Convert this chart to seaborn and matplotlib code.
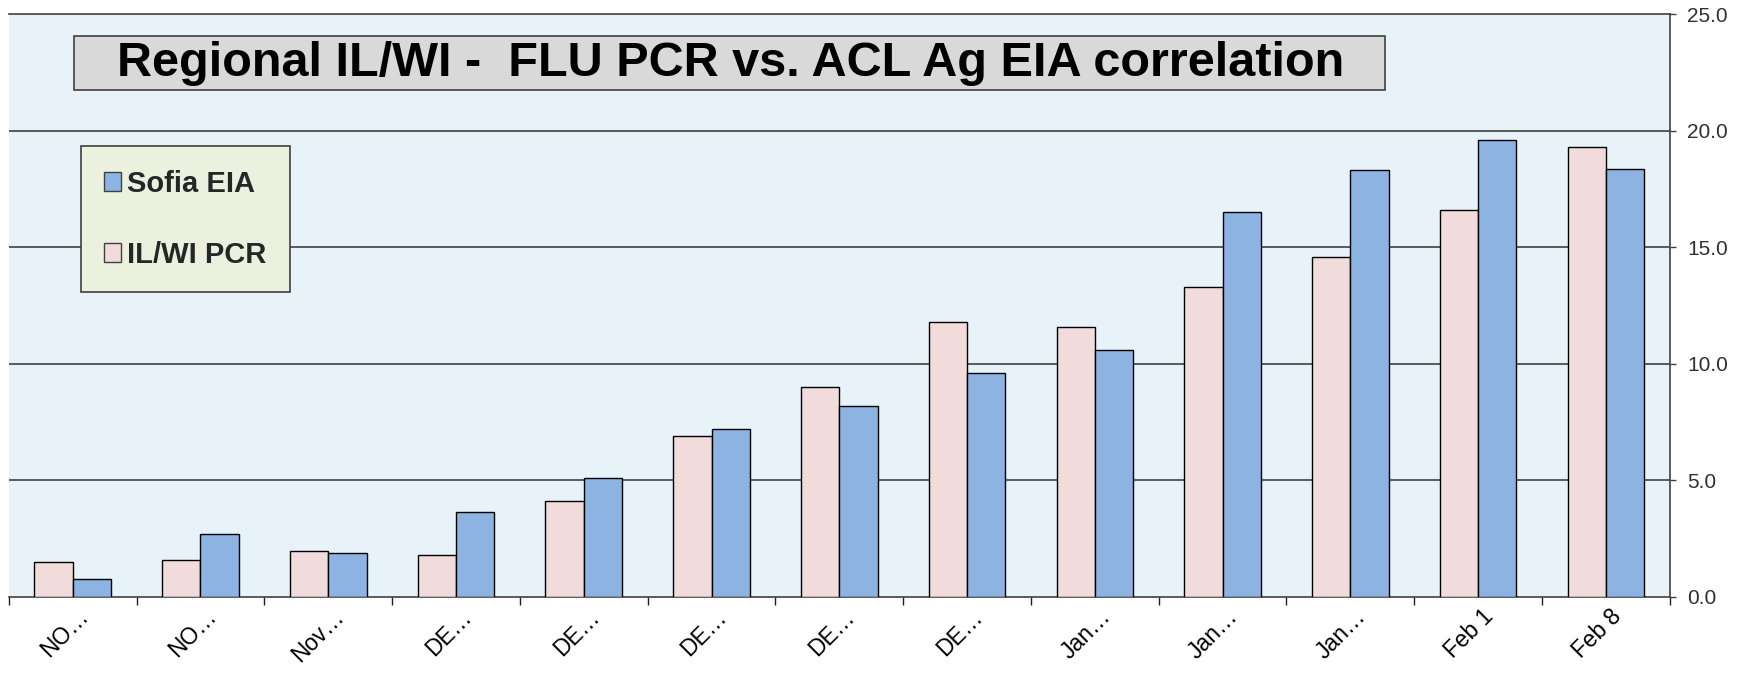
import matplotlib
matplotlib.use("Agg")
import matplotlib.pyplot as plt
import matplotlib.transforms as mtransforms
import seaborn as sns
import pandas as pd
from matplotlib.patches import Patch, Rectangle
from matplotlib.ticker import FormatStrFormatter, FixedLocator

categories = ["NO…", "NO…", "Nov…", "DE…", "DE…", "DE…", "DE…", "DE…",
              "Jan…", "Jan…", "Jan…", "Feb 1", "Feb 8"]
pcr_values = [1.5, 1.6, 1.95, 1.8, 4.1, 6.9, 9.0, 11.8, 11.6, 13.3, 14.6, 16.6, 19.3]
eia_values = [0.75, 2.7, 1.9, 3.65, 5.1, 7.2, 8.2, 9.6, 10.6, 16.5, 18.3, 19.6, 18.35]
series_names = ["IL/WI PCR", "Sofia EIA"]
yticks = [0, 5, 10, 15, 20, 25]
title = "Regional IL/WI -  FLU PCR vs. ACL Ag EIA correlation"

week_ids = list(range(len(categories)))
df = pd.DataFrame({
    "week": week_ids * 2,
    "value": pcr_values + eia_values,
    "series": [series_names[0]] * len(categories) + [series_names[1]] * len(categories),
})

colors = {"IL/WI PCR": "#F2DCDB", "Sofia EIA": "#8DB3E2"}

sns.set_theme(style="white")
plt.rcParams["font.family"] = ["Liberation Sans", "DejaVu Sans"]

fig = plt.figure(figsize=(17.54, 6.76), dpi=100)
ax = fig.add_axes([0.005, 0.117, 0.947, 0.862])
ax.set_facecolor("#E7F2F9")

sns.barplot(data=df, x="week", y="value", hue="series", hue_order=series_names,
            order=week_ids, palette=colors, saturation=1, width=0.6,
            edgecolor="black", linewidth=1.0, legend=False, ax=ax, zorder=3)

ax.set_ylim(0, 25)
ax.set_xlim(-0.5, len(categories) - 0.5)
ax.yaxis.tick_right()
ax.set_yticks(yticks)
ax.yaxis.set_major_formatter(FormatStrFormatter("%.1f"))
ax.tick_params(axis="y", direction="out", length=4.5, width=1, color="#404040",
               labelsize=15, labelcolor="#303030", pad=8)
for y in yticks[1:-1]:
    ax.axhline(y, color="#404040", linewidth=1.2, zorder=1)

ax.set_xticks(week_ids)
ax.set_xticklabels(categories, rotation=45, ha="right", rotation_mode="anchor")
ax.tick_params(axis="x", which="major", length=0, labelsize=16.5, pad=6, labelcolor="black")
shift = mtransforms.ScaledTranslation(4 / 100, 0, fig.dpi_scale_trans)
for lbl in ax.get_xticklabels():
    lbl.set_transform(lbl.get_transform() + shift)
ax.xaxis.set_minor_locator(FixedLocator([i - 0.5 for i in range(len(categories) + 1)]))
ax.tick_params(axis="x", which="minor", direction="out", length=6, width=1, color="#202020",
               bottom=True)
ax.set_xlabel("")
ax.set_ylabel("")

ax.spines["left"].set_visible(False)
for s in ["top", "right", "bottom"]:
    ax.spines[s].set_visible(True)
    ax.spines[s].set_color("#404040")
    ax.spines[s].set_linewidth(1.2)

ax.add_patch(Rectangle((0.0393, 0.870), 0.789, 0.0927, transform=ax.transAxes,
                       facecolor="#D9D9D9", edgecolor="#404040", linewidth=1.2, zorder=5))
ax.text(0.4345, 0.916, title, transform=ax.transAxes, ha="center", va="center",
        fontsize=35, fontweight="bold", color="black", zorder=6)

handles = [Patch(facecolor=colors["Sofia EIA"], edgecolor="#404040", label="Sofia EIA"),
           Patch(facecolor=colors["IL/WI PCR"], edgecolor="#404040", label="IL/WI PCR")]
leg = ax.legend(handles=handles, loc="upper left", bbox_to_anchor=(0.0432, 0.773),
                prop={"weight": "bold", "size": 21}, frameon=True, fancybox=False,
                labelspacing=1.47, handlelength=0.6, handleheight=0.6, handletextpad=0.2,
                borderpad=0.8, borderaxespad=0)
leg.get_frame().set_facecolor("#EBF1DE")
leg.get_frame().set_edgecolor("#404040")
leg.get_frame().set_linewidth(1.2)
leg.get_frame().set_alpha(1)
leg.set_zorder(6)

fig.savefig("out.png", dpi=100)
